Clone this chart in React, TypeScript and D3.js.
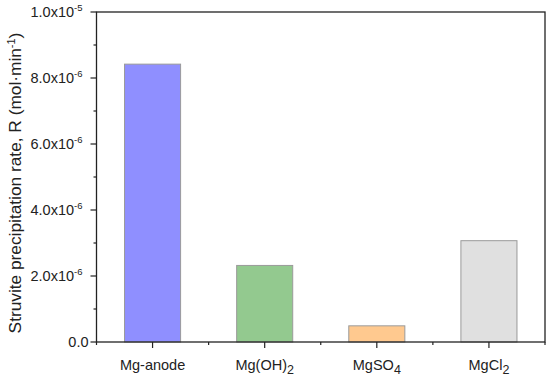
import React, { useEffect, useRef } from 'react';
import * as d3 from 'd3';

const categories = ['Mg-anode', 'Mg(OH)2', 'MgSO4', 'MgCl2'];
const labelParts: [string, string][] = [
  ['Mg-anode', ''],
  ['Mg(OH)', '2'],
  ['MgSO', '4'],
  ['MgCl', '2'],
];
const rates = [8.42e-6, 2.32e-6, 0.49e-6, 3.07e-6];
const fills = ['#8f8fff', '#93c98f', '#ffc98f', '#e0e0e0'];
const yTicks = [0, 2e-6, 4e-6, 6e-6, 8e-6, 1e-5];

const App = () => {
  const svgRef = useRef<SVGSVGElement>(null);

  useEffect(() => {
    if (!svgRef.current) return;
    const svg = d3.select(svgRef.current);
    svg.selectAll('*').remove();

    const m = { left: 96.5, right: 545, top: 12, bottom: 342 };
    const font = "'Liberation Sans', Arial, sans-serif";

    const x = d3.scaleBand().domain(categories).range([m.left, m.right]).padding(0);
    const y = d3.scaleLinear().domain([0, 1e-5]).range([m.bottom, m.top]);
    const bw = x.bandwidth() * 0.5;

    // bars
    svg.append('g')
      .selectAll('rect')
      .data(rates)
      .enter()
      .append('rect')
      .attr('x', (d, i) => x(categories[i])! + x.bandwidth() / 2 - bw / 2)
      .attr('y', (d) => y(d))
      .attr('width', bw)
      .attr('height', (d) => y(0) - y(d))
      .attr('fill', (d, i) => fills[i])
      .attr('stroke', '#9a9a9a')
      .attr('stroke-width', 1);

    // frame
    svg.append('rect')
      .attr('x', m.left)
      .attr('y', m.top)
      .attr('width', m.right - m.left)
      .attr('height', m.bottom - m.top)
      .attr('fill', 'none')
      .attr('stroke', '#222')
      .attr('stroke-width', 1.3);

    // y ticks
    const yg = svg.append('g');
    const minorY = [1e-6, 3e-6, 5e-6, 7e-6, 9e-6];
    minorY.forEach((v) => {
      yg.append('line').attr('x1', m.left - 3).attr('x2', m.left)
        .attr('y1', y(v)).attr('y2', y(v)).attr('stroke', '#222').attr('stroke-width', 1.2);
    });
    yTicks.forEach((v) => {
      yg.append('line').attr('x1', m.left - 6).attr('x2', m.left)
        .attr('y1', y(v)).attr('y2', y(v)).attr('stroke', '#222').attr('stroke-width', 1.2);
      const t = yg.append('text')
        .attr('x', m.left - 14)
        .attr('y', y(v) + 5)
        .attr('text-anchor', 'end')
        .attr('font-family', font)
        .attr('font-size', 14.5)
        .attr('fill', '#222');
      if (v === 0) {
        t.attr('x', m.left - 8).text('0.0');
      } else {
        const exp = Math.floor(Math.log10(v) + 1e-9);
        const mant = v / Math.pow(10, exp);
        t.append('tspan').text(`${mant.toFixed(1)}x10`);
        t.append('tspan').attr('dy', -6).attr('font-size', 9.5).text(`${exp}`);
      }
    });

    // x ticks
    const xg = svg.append('g');
    categories.forEach((c) => {
      const cx = x(c)! + x.bandwidth() / 2;
      xg.append('line').attr('x1', cx).attr('x2', cx)
        .attr('y1', m.bottom).attr('y2', m.bottom + 6).attr('stroke', '#222').attr('stroke-width', 1.2);
    });
    [...categories.map((c) => x(c)!), m.right].forEach((bx) => {
      xg.append('line').attr('x1', bx).attr('x2', bx)
        .attr('y1', m.bottom).attr('y2', m.bottom + 3).attr('stroke', '#222').attr('stroke-width', 1.2);
    });
    labelParts.forEach(([main, sub], i) => {
      const cx = x(categories[i])! + x.bandwidth() / 2;
      const t = xg.append('text')
        .attr('x', cx)
        .attr('y', 370)
        .attr('text-anchor', 'middle')
        .attr('font-family', font)
        .attr('font-size', 14.5)
        .attr('fill', '#222');
      t.append('tspan').text(main);
      if (sub) t.append('tspan').attr('dy', 4).attr('font-size', 12.5).text(sub);
    });

    // y title
    const title = svg.append('text')
      .attr('transform', `translate(21, ${(m.top + m.bottom) / 2 + 6}) rotate(-90)`)
      .attr('text-anchor', 'middle')
      .attr('font-family', font)
      .attr('font-size', 17.3)
      .attr('fill', '#222');
    title.append('tspan').text('Struvite precipitation rate, R (mol\u00b7min');
    title.append('tspan').attr('dy', -6).attr('font-size', 11).text('-1');
    title.append('tspan').attr('dy', 6).text(')');
  }, []);

  return (
    <svg
      ref={svgRef}
      width={550}
      height={381}
      style={{ position: 'absolute', left: 0, top: 0, background: '#fff' }}
    />
  );
};

export default App;
